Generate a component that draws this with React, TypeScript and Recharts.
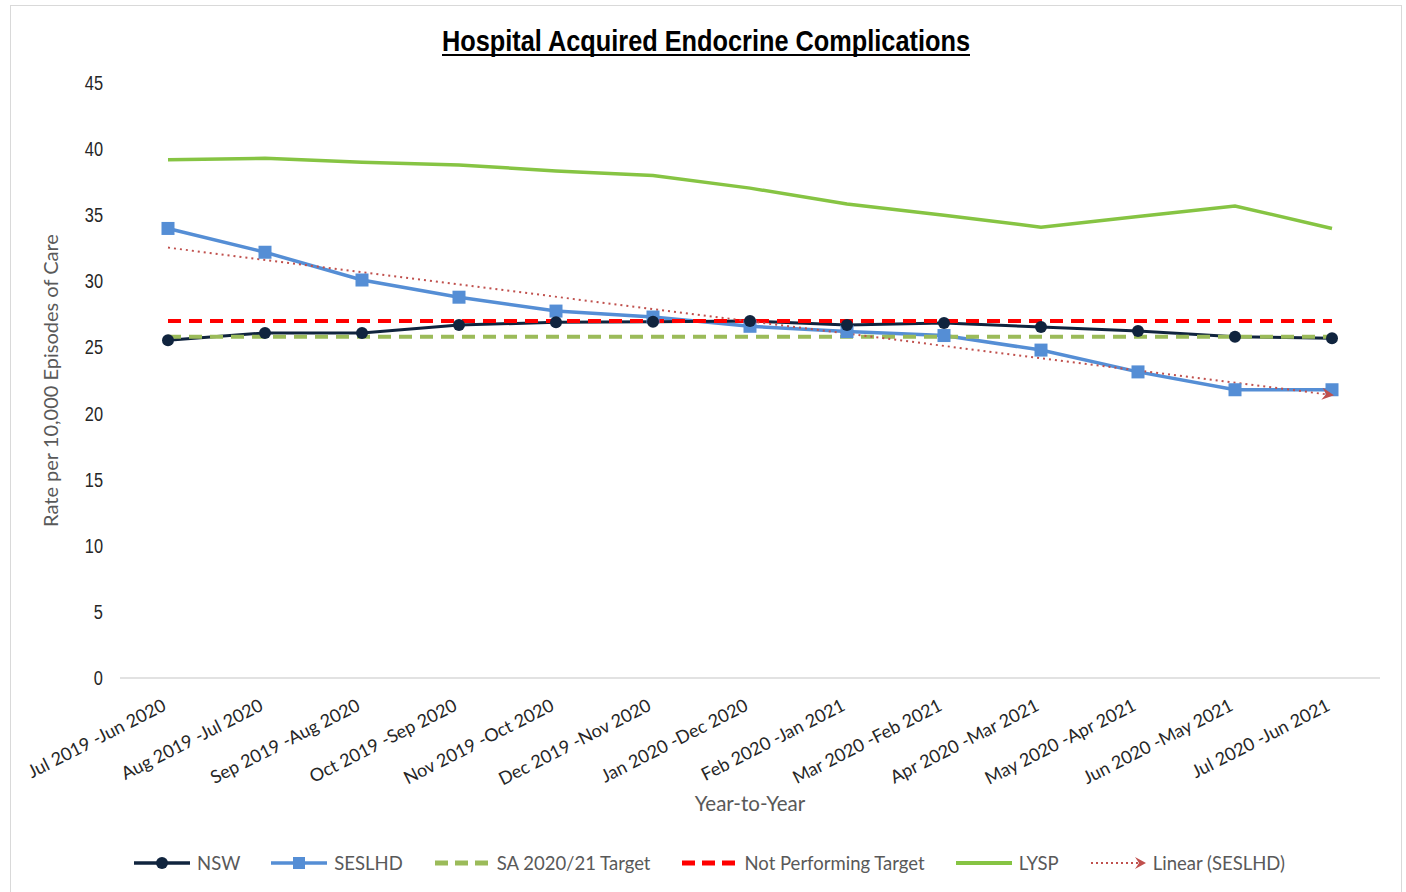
import React from 'react';
import { LineChart, Line, XAxis, YAxis } from 'recharts';

const periods = [
  'Jul 2019 -Jun 2020', 'Aug 2019 -Jul 2020', 'Sep 2019 -Aug 2020', 'Oct 2019 -Sep 2020',
  'Nov 2019 -Oct 2020', 'Dec 2019 -Nov 2020', 'Jan 2020 -Dec 2020', 'Feb 2020 -Jan 2021',
  'Mar 2020 -Feb 2021', 'Apr 2020 -Mar 2021', 'May 2020 -Apr 2021', 'Jun 2020 -May 2021',
  'Jul 2020 -Jun 2021',
];
const nsw = [25.55, 26.1, 26.1, 26.7, 26.9, 26.95, 27.0, 26.7, 26.85, 26.55, 26.25, 25.8, 25.7];
const seslhd = [34.0, 32.2, 30.1, 28.8, 27.75, 27.3, 26.6, 26.2, 25.9, 24.8, 23.15, 21.8, 21.8];
const lysp = [39.2, 39.3, 39.0, 38.8, 38.35, 38.0, 37.05, 35.85, 35.0, 34.1, 34.9, 35.7, 34.0];
const saTarget = 25.8;
const notPerforming = 27.0;
// trendline ends
const trendStart = 32.55;
const trendEnd = 21.4;
const yTicks = [0, 5, 10, 15, 20, 25, 30, 35, 40, 45];

const data = periods.map((p, i) => ({
  period: p,
  nsw: nsw[i],
  seslhd: seslhd[i],
  lysp: lysp[i],
  sa: saTarget,
  np: notPerforming,
  trend: i === 0 ? trendStart : i === periods.length - 1 ? trendEnd : null,
}));

const C = {
  nsw: '#10243e',
  seslhd: '#558ed5',
  sa: '#9bbb59',
  np: '#ff0000',
  lysp: '#86c443',
  trend: '#c0504d',
  text: '#595959',
};

const FONT = 'Lato, "Open Sans", sans-serif';
const NARROW = '"Liberation Sans", Arial, sans-serif';

const XTick = (props: any) => {
  const { x, y, payload } = props;
  return (
    <g transform={`translate(${x - 7},${y + 11})`}>
      <text x={0} y={0} dy={14} textAnchor="end" transform="rotate(-27)" fill="#262626" fontSize={18} fontFamily={FONT}>
        {payload.value}
      </text>
    </g>
  );
};

const YTick = (props: any) => {
  const { x, y, payload } = props;
  return (
    <text x={x} y={y} dy={7} textAnchor="end" fill="#262626" fontSize={21} fontFamily={NARROW} transform={`translate(${x},0) scale(0.78,1) translate(${-x},0)`}>
      {payload.value}
    </text>
  );
};

const SquareDot = (props: any) => {
  const { cx, cy, index } = props;
  if (cx == null || cy == null) return <g key={`s-${index}`} />;
  return <rect key={`s-${index}`} x={cx - 6.5} y={cy - 6.5} width={13} height={13} fill={C.seslhd} />;
};

const ArrowDot = (props: any) => {
  const { cx, cy, index } = props;
  if (index !== periods.length - 1 || cx == null) return <g key={`a-${index}`} />;
  return (
    <g key={`a-${index}`} transform={`translate(${cx},${cy}) rotate(7)`}>
      <path d="M -10 -6 L 2 0 L -10 6 L -6 0 Z" fill={C.trend} />
    </g>
  );
};

const legendItems = [
  { name: 'NSW', color: C.nsw, kind: 'circle' },
  { name: 'SESLHD', color: C.seslhd, kind: 'square' },
  { name: 'SA 2020/21 Target', color: C.sa, kind: 'dash' },
  { name: 'Not Performing Target', color: C.np, kind: 'dash' },
  { name: 'LYSP', color: C.lysp, kind: 'solid' },
  { name: 'Linear (SESLHD)', color: C.trend, kind: 'dot' },
];

const LegendIcon = ({ kind, color }: { kind: string; color: string }) => (
  <svg width={58} height={14}>
    {kind === 'dash' ? (
      <line x1={2} x2={58} y1={7} y2={7} stroke={color} strokeWidth={5} strokeDasharray="13 7" />
    ) : kind === 'dot' ? (
      <>
        <line x1={2} x2={50} y1={7} y2={7} stroke={color} strokeWidth={2} strokeDasharray="2 3" />
        <path d="M 46 1 L 57 7 L 46 13 L 50 7 Z" fill={color} />
      </>
    ) : (
      <line x1={1} x2={57} y1={7} y2={7} stroke={color} strokeWidth={kind === 'solid' ? 4 : 3.5} />
    )}
    {kind === 'circle' && <circle cx={29} cy={7} r={6} fill={color} />}
    {kind === 'square' && <rect x={23} y={1} width={12} height={12} fill={color} />}
  </svg>
);

export default function App() {
  return (
    <div style={{ position: 'absolute', left: 0, top: 0, width: 1406, height: 892, background: '#fff', overflow: 'hidden' }}>
      <div style={{ position: 'absolute', left: 10, top: 5, width: 1392, height: 900, border: '1px solid #d9d9d9', boxSizing: 'border-box' }} />
      <svg style={{ position: 'absolute', left: 0, top: 0 }} width={1406} height={70}>
        <text x={706} y={51} textAnchor="middle" textLength={528} lengthAdjust="spacingAndGlyphs" fontFamily={NARROW} fontWeight="bold" fontSize={30} fill="#000">
          Hospital Acquired Endocrine Complications
        </text>
        <line x1={442} x2={970} y1={55} y2={55} stroke="#000" strokeWidth={2} />
      </svg>
      <div style={{ position: 'absolute', left: 0, top: 0 }}>
        <LineChart width={1406} height={892} data={data} margin={{ top: 83, right: 26, bottom: 0, left: 30 }}>
          <XAxis
            dataKey="period"
            height={214}
            interval={0}
            padding={{ left: 48, right: 48 }}
            tick={<XTick />}
            tickLine={false}
            axisLine={{ stroke: '#d9d9d9', strokeWidth: 1.5 }}
            label={{ value: 'Year-to-Year', position: 'insideTop', offset: 118, fill: C.text, fontSize: 20.5, fontFamily: FONT }}
          />
          <YAxis
            width={90}
            domain={[0, 45]}
            ticks={yTicks}
            interval={0}
            tickLine={false}
            axisLine={false}
            tickSize={0}
            tickMargin={17}
            tick={<YTick />}
            label={{
              content: ({ viewBox }: any) => (
                <text
                  x={50}
                  y={viewBox.y + viewBox.height / 2}
                  transform={`rotate(-90, 50, ${viewBox.y + viewBox.height / 2})`}
                  textAnchor="middle"
                  dominantBaseline="central"
                  fill={C.text}
                  fontSize={20}
                  fontFamily={FONT}
                >
                  Rate per 10,000 Episodes of Care
                </text>
              ),
            }}
          />
          <Line dataKey="lysp" stroke={C.lysp} strokeWidth={3.5} dot={false} isAnimationActive={false} />
          <Line dataKey="seslhd" stroke={C.seslhd} strokeWidth={3.5} dot={<SquareDot />} isAnimationActive={false} />
          <Line dataKey="nsw" stroke={C.nsw} strokeWidth={3} dot={{ r: 6, fill: C.nsw, stroke: C.nsw, strokeWidth: 0 }} isAnimationActive={false} />
          <Line dataKey="sa" stroke={C.sa} strokeWidth={4} strokeDasharray="13 8" dot={false} isAnimationActive={false} />
          <Line dataKey="np" stroke={C.np} strokeWidth={4} strokeDasharray="13 8" dot={false} isAnimationActive={false} />
          <Line dataKey="trend" stroke={C.trend} strokeWidth={2} strokeDasharray="2 4" connectNulls dot={<ArrowDot />} isAnimationActive={false} />
        </LineChart>
      </div>
      <div
        style={{
          position: 'absolute', left: 0, top: 852, width: 1418, display: 'flex', justifyContent: 'center',
          alignItems: 'center', gap: 30, fontFamily: FONT, fontSize: 18.5, color: C.text,
        }}
      >
        {legendItems.map((it) => (
          <div key={it.name} style={{ display: 'flex', alignItems: 'center', gap: 6 }}>
            <LegendIcon kind={it.kind} color={it.color} />
            <span>{it.name}</span>
          </div>
        ))}
      </div>
    </div>
  );
}
